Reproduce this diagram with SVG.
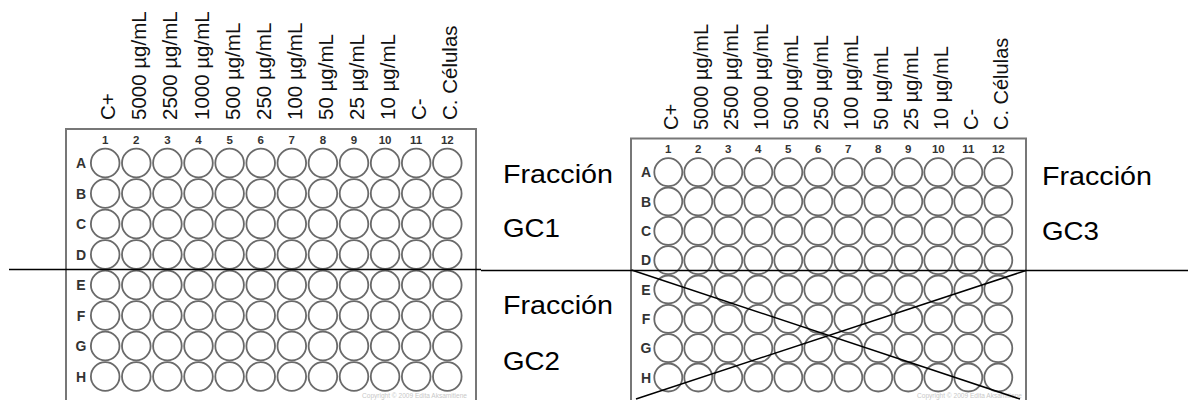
<svg xmlns="http://www.w3.org/2000/svg" xmlns:xlink="http://www.w3.org/1999/xlink" width="1188" height="400" viewBox="0 0 1188 400">
<style>
.plate{fill:#fff;stroke:#777;stroke-width:2}
.well{fill:#fff;stroke:#6a6a6a;stroke-width:1.8}
.num{font-family:"Liberation Sans",Arial,sans-serif;font-weight:bold;font-size:11.5px;fill:#333;text-anchor:middle}
.row{font-family:"Liberation Sans",Arial,sans-serif;font-weight:bold;font-size:14px;fill:#333;text-anchor:middle}
.lab{font-family:"Liberation Sans",Arial,sans-serif;font-size:20.5px;fill:#111}
.labr{font-family:"Liberation Sans",Arial,sans-serif;font-size:20px;fill:#111}
.frac{font-family:"Liberation Sans",Arial,sans-serif;font-size:25px;fill:#000}
.copy{font-family:"Liberation Sans",Arial,sans-serif;font-size:6.5px;fill:#c8c8c8}
.cut{stroke:#000;stroke-width:1.5;fill:none}
</style>
<defs>
<g id="rowL">
<circle class="well" cx="105.2" cy="0" r="14.3"/><circle class="well" cx="136.3" cy="0" r="14.3"/><circle class="well" cx="167.4" cy="0" r="14.3"/><circle class="well" cx="198.5" cy="0" r="14.3"/><circle class="well" cx="229.6" cy="0" r="14.3"/><circle class="well" cx="260.7" cy="0" r="14.3"/><circle class="well" cx="291.8" cy="0" r="14.3"/><circle class="well" cx="322.9" cy="0" r="14.3"/><circle class="well" cx="354.0" cy="0" r="14.3"/><circle class="well" cx="385.1" cy="0" r="14.3"/><circle class="well" cx="416.2" cy="0" r="14.3"/><circle class="well" cx="447.3" cy="0" r="14.3"/>
</g>
<g id="rowR">
<circle class="well" cx="668.3" cy="0" r="14"/><circle class="well" cx="698.3" cy="0" r="14"/><circle class="well" cx="728.3" cy="0" r="14"/><circle class="well" cx="758.3" cy="0" r="14"/><circle class="well" cx="788.3" cy="0" r="14"/><circle class="well" cx="818.3" cy="0" r="14"/><circle class="well" cx="848.3" cy="0" r="14"/><circle class="well" cx="878.3" cy="0" r="14"/><circle class="well" cx="908.3" cy="0" r="14"/><circle class="well" cx="938.3" cy="0" r="14"/><circle class="well" cx="968.3" cy="0" r="14"/><circle class="well" cx="998.3" cy="0" r="14"/>
</g>
</defs>

<g id="plate-left">
<rect class="plate" x="66" y="129" width="410" height="290"/>
<g class="num">
<text x="105.2" y="144">1</text><text x="136.3" y="144">2</text><text x="167.4" y="144">3</text><text x="198.5" y="144">4</text><text x="229.6" y="144">5</text><text x="260.7" y="144">6</text><text x="291.8" y="144">7</text><text x="322.9" y="144">8</text><text x="354.0" y="144">9</text><text x="385.1" y="144">10</text><text x="416.2" y="144">11</text><text x="447.3" y="144">12</text>
</g>
<use xlink:href="#rowL" y="163"/><use xlink:href="#rowL" y="193.5"/><use xlink:href="#rowL" y="224"/><use xlink:href="#rowL" y="254.5"/><use xlink:href="#rowL" y="285"/><use xlink:href="#rowL" y="315.5"/><use xlink:href="#rowL" y="346"/><use xlink:href="#rowL" y="376.5"/>
<g class="row">
<text x="81" y="168">A</text><text x="81" y="198.5">B</text><text x="81" y="229">C</text><text x="81" y="259.5">D</text><text x="81" y="290">E</text><text x="81" y="320.5">F</text><text x="81" y="351">G</text><text x="81" y="381.5">H</text>
</g>
<text class="copy" x="362" y="398" textLength="105" lengthAdjust="spacingAndGlyphs">Copyright © 2009 Edita Aksamitiene</text>
<g class="lab">
<text transform="translate(115.2,120) rotate(-90)">C+</text>
<text transform="translate(146.3,120) rotate(-90)">5000 µg/mL</text>
<text transform="translate(177.4,120) rotate(-90)">2500 µg/mL</text>
<text transform="translate(208.5,120) rotate(-90)">1000 µg/mL</text>
<text transform="translate(239.6,120) rotate(-90)">500 µg/mL</text>
<text transform="translate(270.7,120) rotate(-90)">250 µg/mL</text>
<text transform="translate(301.8,120) rotate(-90)">100 µg/mL</text>
<text transform="translate(332.9,120) rotate(-90)">50 µg/mL</text>
<text transform="translate(364.0,120) rotate(-90)">25 µg/mL</text>
<text transform="translate(395.1,120) rotate(-90)">10 µg/mL</text>
<text transform="translate(426.2,120) rotate(-90)">C-</text>
<text transform="translate(457.3,120) rotate(-90)">C. Células</text>
</g>
</g>

<g id="plate-right">
<rect class="plate" x="631" y="138.5" width="395" height="280"/>
<g class="num">
<text x="668.3" y="153">1</text><text x="698.3" y="153">2</text><text x="728.3" y="153">3</text><text x="758.3" y="153">4</text><text x="788.3" y="153">5</text><text x="818.3" y="153">6</text><text x="848.3" y="153">7</text><text x="878.3" y="153">8</text><text x="908.3" y="153">9</text><text x="938.3" y="153">10</text><text x="968.3" y="153">11</text><text x="998.3" y="153">12</text>
</g>
<use xlink:href="#rowR" y="172.2"/><use xlink:href="#rowR" y="201.5"/><use xlink:href="#rowR" y="230.9"/><use xlink:href="#rowR" y="260.2"/><use xlink:href="#rowR" y="289.5"/><use xlink:href="#rowR" y="318.9"/><use xlink:href="#rowR" y="348.2"/><use xlink:href="#rowR" y="377.5"/>
<g class="row">
<text x="646" y="177.2">A</text><text x="646" y="206.5">B</text><text x="646" y="235.9">C</text><text x="646" y="265.2">D</text><text x="646" y="294.5">E</text><text x="646" y="323.9">F</text><text x="646" y="353.2">G</text><text x="646" y="382.5">H</text>
</g>
<text class="copy" x="917" y="397.5" textLength="105" lengthAdjust="spacingAndGlyphs">Copyright © 2009 Edita Aksamitiene</text>
<g class="labr">
<text transform="translate(678.3,130) rotate(-90)">C+</text>
<text transform="translate(708.3,130) rotate(-90)">5000 µg/mL</text>
<text transform="translate(738.3,130) rotate(-90)">2500 µg/mL</text>
<text transform="translate(768.3,130) rotate(-90)">1000 µg/mL</text>
<text transform="translate(798.3,130) rotate(-90)">500 µg/mL</text>
<text transform="translate(828.3,130) rotate(-90)">250 µg/mL</text>
<text transform="translate(858.3,130) rotate(-90)">100 µg/mL</text>
<text transform="translate(888.3,130) rotate(-90)">50 µg/mL</text>
<text transform="translate(918.3,130) rotate(-90)">25 µg/mL</text>
<text transform="translate(948.3,130) rotate(-90)">10 µg/mL</text>
<text transform="translate(978.3,130) rotate(-90)">C-</text>
<text transform="translate(1008.3,130) rotate(-90)">C. Células</text>
</g>
</g>

<g id="fraction-labels" class="frac">
<text x="503" y="183" textLength="110" lengthAdjust="spacingAndGlyphs">Fracción</text>
<text x="503" y="237" textLength="57" lengthAdjust="spacingAndGlyphs">GC1</text>
<text x="503" y="314" textLength="110" lengthAdjust="spacingAndGlyphs">Fracción</text>
<text x="503" y="369.5" textLength="57" lengthAdjust="spacingAndGlyphs">GC2</text>
<text x="1042" y="185" textLength="110" lengthAdjust="spacingAndGlyphs">Fracción</text>
<text x="1042" y="239.5" textLength="57" lengthAdjust="spacingAndGlyphs">GC3</text>
</g>

<g id="connectors">
<line class="cut" x1="9" y1="269.5" x2="481" y2="269.5"/>
<line class="cut" x1="481" y1="270.5" x2="1188" y2="270.5"/>
<line class="cut" x1="631.5" y1="270" x2="1020" y2="399"/>
<line class="cut" x1="1026" y1="270.5" x2="636" y2="399"/>
</g>
</svg>
